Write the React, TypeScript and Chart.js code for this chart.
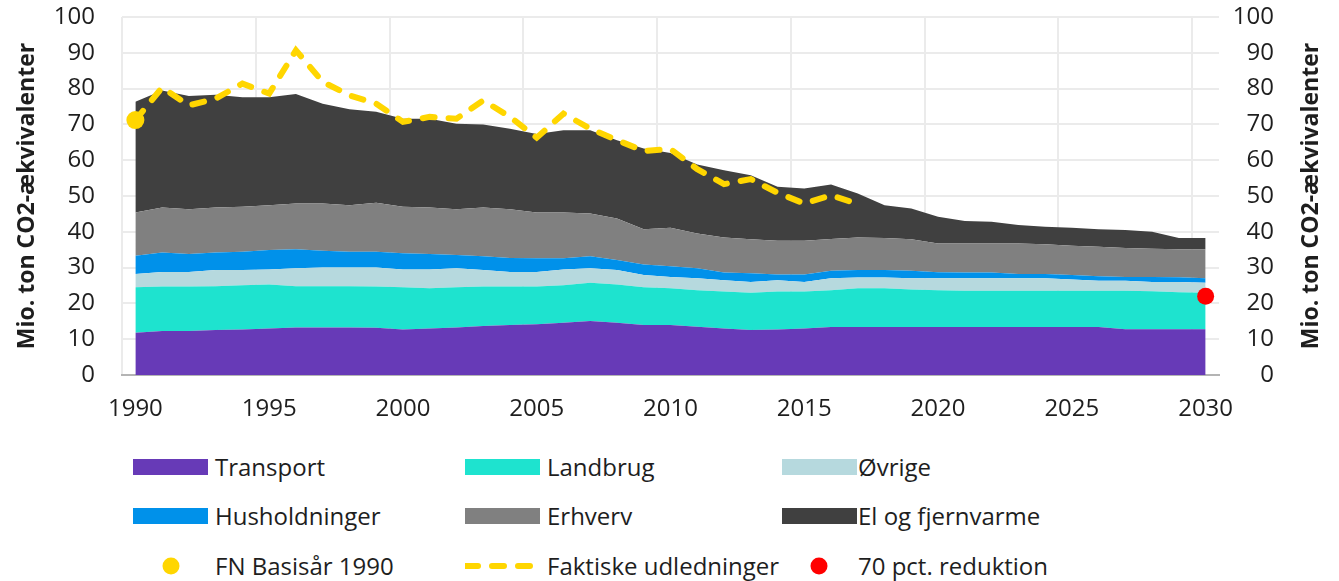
import React, { useEffect, useRef } from "react";
import { Chart, registerables } from "chart.js";

Chart.register(...registerables);

// ---------- DATA ----------
const years = [
  "1990", "1991", "1992", "1993", "1994", "1995", "1996", "1997", "1998", "1999",
  "2000", "2001", "2002", "2003", "2004", "2005", "2006", "2007", "2008", "2009",
  "2010", "2011", "2012", "2013", "2014", "2015", "2016", "2017", "2018", "2019",
  "2020", "2021", "2022", "2023", "2024", "2025", "2026", "2027", "2028", "2029",
  "2030",
];
const xTickLabels = ["1990", "1995", "2000", "2005", "2010", "2015", "2020", "2025", "2030"];

const transport = [
  11.8, 12.3, 12.3, 12.6, 12.7, 13.0, 13.3, 13.3, 13.3, 13.2,
  12.7, 13.0, 13.3, 13.7, 14.0, 14.2, 14.6, 15.1, 14.6, 14.0,
  14.0, 13.5, 13.0, 12.6, 12.7, 13.0, 13.4, 13.4, 13.4, 13.4,
  13.4, 13.4, 13.4, 13.4, 13.4, 13.4, 13.4, 12.8, 12.8, 12.8,
  12.8,
];
const landbrug = [
  12.7, 12.4, 12.4, 12.2, 12.4, 12.3, 11.5, 11.5, 11.5, 11.5,
  11.8, 11.2, 11.2, 11.0, 10.7, 10.5, 10.5, 10.7, 10.7, 10.5,
  10.2, 10.2, 10.3, 10.4, 10.6, 10.3, 10.3, 10.8, 10.8, 10.5,
  10.3, 10.1, 10.1, 10.1, 10.1, 10.1, 10.1, 10.7, 10.6, 10.3,
  10.2,
];
const oevrige = [
  3.7, 4.1, 4.1, 4.5, 4.2, 4.2, 5.0, 5.2, 5.2, 5.3,
  5.0, 5.3, 5.3, 4.6, 4.1, 4.1, 4.4, 4.0, 4.0, 3.4,
  3.2, 3.3, 3.2, 3.0, 3.2, 2.7, 3.3, 3.0, 3.0, 3.1,
  3.3, 3.5, 3.5, 3.5, 3.5, 3.2, 2.8, 2.8, 2.6, 2.9,
  2.8,
];
const husholdninger = [
  5.1, 5.4, 5.0, 4.9, 5.1, 5.4, 5.3, 4.7, 4.4, 4.4,
  4.5, 4.3, 3.7, 3.9, 3.9, 3.8, 3.1, 3.4, 2.8, 3.0,
  3.0, 2.8, 2.1, 2.4, 1.6, 2.1, 2.1, 2.1, 2.1, 2.1,
  1.7, 1.6, 1.6, 1.2, 1.2, 1.2, 1.3, 1.1, 1.4, 1.3,
  1.2,
];
const erhverv = [
  12.1, 12.6, 12.5, 12.6, 12.6, 12.5, 12.8, 13.2, 13.0, 13.7,
  13.0, 13.0, 12.8, 13.6, 13.6, 12.8, 12.8, 11.9, 11.6, 9.8,
  10.7, 9.7, 9.8, 9.5, 9.4, 9.4, 8.9, 9.1, 9.0, 8.8,
  8.0, 8.1, 8.1, 8.5, 8.3, 8.2, 8.2, 8.1, 7.9, 7.8,
  8.1,
];
const elOgFjernvarme = [
  30.9, 32.7, 31.6, 31.5, 30.6, 30.2, 30.6, 27.9, 26.8, 25.4,
  24.6, 24.8, 23.9, 23.2, 22.5, 21.9, 23.0, 23.3, 21.9, 22.6,
  20.9, 19.3, 18.8, 17.9, 15.1, 14.6, 15.2, 12.3, 9.1, 8.6,
  7.5, 6.3, 6.1, 5.2, 4.9, 5.0, 4.9, 5.0, 4.7, 3.2,
  3.2,
];
// Faktiske udledninger 1990-2017
const faktiske = [
  71.2, 80.3, 75.3, 77.2, 81.4, 78.6, 90.7, 81.9, 78.1, 75.8,
  70.7, 72.1, 71.6, 76.7, 72.1, 66.3, 73.0, 68.8, 65.6, 62.6,
  63.1, 57.5, 53.3, 54.7, 50.9, 47.9, 50.2, 47.8,
];
const fnBasisYear = "1990";
const fnBasisValue = 71.2;
const reduktionYear = "2030";
const reduktionValue = 22.0;

const areaNames = ["Transport", "Landbrug", "Øvrige", "Husholdninger", "Erhverv", "El og fjernvarme"];
const areaValues = [transport, landbrug, oevrige, husholdninger, erhverv, elOgFjernvarme];
const areaColors = ["#673AB7", "#1EE3CF", "#B6D9DE", "#0091EA", "#808080", "#404040"];
const yellow = "#FFD600";
const red = "#FF0000";
const yTitle = "Mio. ton CO2-ækvivalenter";

const FONT = '"Open Sans", "DejaVu Sans", sans-serif';
const TEXT = "#1e1e1e";
const GRID = "#ebebeb";
const NONE = "rgba(0,0,0,0)";

const W = 1339;
const CH = 430;

const titlesPlugin = {
  id: "sideTitles",
  afterDraw(chart: any) {
    const { ctx, chartArea } = chart;
    const cy = (chartArea.top + chartArea.bottom) / 2;
    const draw = (x: number) => {
      ctx.save();
      ctx.translate(x, cy);
      ctx.rotate(-Math.PI / 2);
      ctx.font = `bold 23px ${FONT}`;
      ctx.fillStyle = TEXT;
      ctx.textAlign = "center";
      ctx.textBaseline = "middle";
      ctx.fillText(yTitle, 0, 0);
      ctx.restore();
    };
    draw(chartArea.left - 95);
    draw(chartArea.right + 92);
  },
};

function LegendSwatch({ color }: { color: string }) {
  return <div style={{ width: 75, height: 16, background: color }} />;
}

export default function App() {
  const ref = useRef<HTMLCanvasElement | null>(null);

  useEffect(() => {
    document.body.style.margin = "0";
    const canvas = ref.current;
    if (!canvas) return;

    const areaDatasets = areaNames.map((name, i) => ({
      type: "line" as const,
      label: name,
      data: areaValues[i],
      backgroundColor: areaColors[i],
      borderWidth: 0,
      borderColor: areaColors[i],
      pointRadius: 0,
      tension: 0,
      fill: i === 0 ? "origin" : "-1",
      yAxisID: "y",
      order: 1,
    }));

    const chart = new Chart(canvas, {
      type: "line",
      data: {
        labels: years,
        datasets: [
          ...areaDatasets,
          {
            type: "line",
            label: "Faktiske udledninger",
            data: faktiske,
            borderColor: yellow,
            borderWidth: 6,
            borderDash: [12, 14],
            borderCapStyle: "round",
            pointRadius: 0,
            tension: 0,
            fill: false,
            yAxisID: "y2",
            order: 0,
          },
          {
            type: "line",
            label: "FN Basisår 1990",
            data: [{ x: fnBasisYear, y: fnBasisValue }],
            showLine: false,
            pointRadius: 9,
            pointBackgroundColor: yellow,
            pointBorderWidth: 0,
            borderColor: yellow,
            yAxisID: "y2",
            clip: false,
            order: 0,
          },
          {
            type: "line",
            label: "70 pct. reduktion",
            data: [{ x: reduktionYear, y: reduktionValue }],
            showLine: false,
            pointRadius: 8.5,
            pointBackgroundColor: red,
            pointBorderWidth: 0,
            borderColor: red,
            yAxisID: "y2",
            clip: false,
            order: 0,
          },
        ] as any,
      },
      options: {
        responsive: false,
        animation: false,
        devicePixelRatio: 1,
        layout: { padding: { top: 17, left: 0, right: 65, bottom: 0 } },
        plugins: {
          legend: { display: false },
          tooltip: { enabled: false },
        },
        scales: {
          x: {
            type: "category",
            offset: true,
            grid: {
              offset: true,
              drawTicks: false,
              lineWidth: 2,
              color: (ctx: any) => (ctx.index % 5 === 0 ? GRID : NONE),
            },
            border: { display: true, color: "#b4b4b4", width: 2 },
            ticks: {
              autoSkip: false,
              maxRotation: 0,
              padding: 20,
              color: TEXT,
              font: { family: FONT, size: 24 },
              callback: function (this: any, _v: any, i: number) {
                const lbl = years[i];
                return xTickLabels.includes(lbl) ? lbl : "";
              },
            },
            afterFit: (scale: any) => {
              scale.height = CH - 375;
            },
          },
          y: {
            position: "left",
            stacked: true,
            min: 0,
            max: 100,
            grid: {
              color: GRID,
              lineWidth: 2,
              drawTicks: true,
              tickLength: 25,
              tickColor: NONE,
            },
            border: { display: false },
            ticks: {
              stepSize: 10,
              padding: 2,
              color: TEXT,
              font: { family: FONT, size: 24 },
            },
            afterFit: (scale: any) => {
              scale.width = 122;
            },
          },
          y2: {
            position: "right",
            min: 0,
            max: 100,
            grid: { color: NONE, drawTicks: true, tickLength: 12, tickColor: NONE, drawOnChartArea: false },
            border: { display: false },
            ticks: {
              stepSize: 10,
              padding: 2,
              crossAlign: "far",
              color: TEXT,
              font: { family: FONT, size: 24 },
            },
            afterFit: (scale: any) => {
              scale.width = 55;
            },
          },
        },
      } as any,
      plugins: [titlesPlugin],
    });

    return () => chart.destroy();
  }, []);

  const legendCols = [133, 465, 782];
  const textCols = [215, 547, 858];
  const rowCenters = [467, 516, 566];

  const itemStyle = (row: number, col: number): React.CSSProperties => ({
    position: "absolute",
    left: legendCols[col],
    top: rowCenters[row] - 16,
    height: 32,
    display: "flex",
    alignItems: "center",
  });
  const textStyle = (row: number, col: number): React.CSSProperties => ({
    position: "absolute",
    left: textCols[col],
    top: rowCenters[row] - 17,
    height: 34,
    lineHeight: "34px",
    fontFamily: FONT,
    fontSize: 24,
    color: TEXT,
    whiteSpace: "nowrap",
  });

  const markers: React.ReactNode[] = [
    <svg width="75" height="20">
      <circle cx="38" cy="10" r="8.5" fill={yellow} />
    </svg>,
    <svg width="75" height="20">
      <line
        x1="1"
        y1="10"
        x2="74"
        y2="10"
        stroke={yellow}
        strokeWidth="6"
        strokeDasharray="12 14"
        strokeLinecap="round"
      />
    </svg>,
    <svg width="75" height="20">
      <circle cx="37" cy="10" r="8.5" fill={red} />
    </svg>,
  ];
  const markerLabels = ["FN Basisår 1990", "Faktiske udledninger", "70 pct. reduktion"];

  return (
    <div style={{ position: "relative", width: W, height: 581, background: "#fff" }}>
      <canvas ref={ref} width={W} height={CH} style={{ display: "block", width: W, height: CH }} />
      {areaNames.map((name, i) => {
        const row = Math.floor(i / 3);
        const col = i % 3;
        return (
          <React.Fragment key={name}>
            <div style={itemStyle(row, col)}>
              <LegendSwatch color={areaColors[i]} />
            </div>
            <div style={textStyle(row, col)}>{name}</div>
          </React.Fragment>
        );
      })}
      {markerLabels.map((name, col) => (
        <React.Fragment key={name}>
          <div style={itemStyle(2, col)}>{markers[col]}</div>
          <div style={textStyle(2, col)}>{name}</div>
        </React.Fragment>
      ))}
    </div>
  );
}
